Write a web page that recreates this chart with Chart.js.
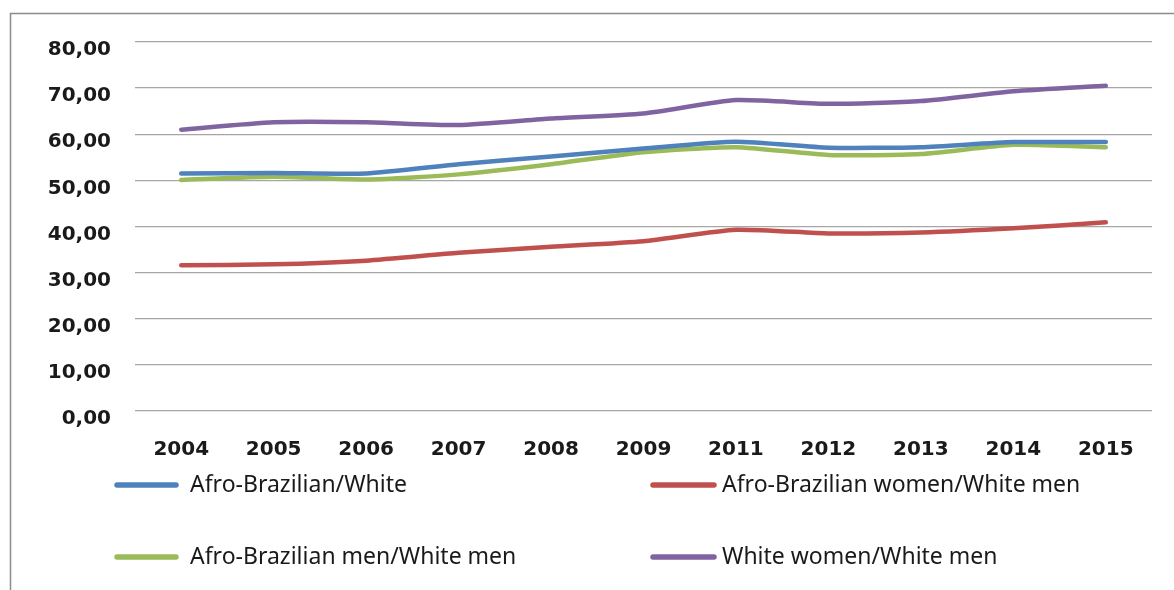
<!DOCTYPE html>
<html>
<head>
<meta charset="utf-8">
<script src="https://cdn.jsdelivr.net/npm/chart.js@4/dist/chart.umd.min.js"></script>
<style>
  html, body { margin: 0; padding: 0; background: #ffffff; }
  #wrap { width: 1174px; height: 590px; }
</style>
</head>
<body>
<div id="wrap"><canvas id="c" width="1174" height="590"></canvas></div>
<script>
// Income ratios (%) by year
const years = ['2004', '2005', '2006', '2007', '2008', '2009', '2011', '2012', '2013', '2014', '2015'];
const afroWhite      = [51.5, 51.6, 51.5, 53.5, 55.2, 56.9, 58.4, 57.1, 57.2, 58.3, 58.3];
const afroWomenWhiteMen = [31.6, 31.8, 32.6, 34.3, 35.6, 36.8, 39.3, 38.5, 38.7, 39.6, 40.9];
const afroMenWhiteMen   = [50.1, 50.8, 50.2, 51.3, 53.5, 56.1, 57.2, 55.5, 55.7, 57.7, 57.2];
const whiteWomenWhiteMen = [61.0, 62.6, 62.6, 62.0, 63.4, 64.5, 67.4, 66.6, 67.2, 69.3, 70.5];
const seriesNames = ['Afro-Brazilian/White', 'Afro-Brazilian women/White men', 'Afro-Brazilian men/White men', 'White women/White men'];
const yTicks = [0, 10, 20, 30, 40, 50, 60, 70, 80];

const colors = ['#4f81bd', '#c0504d', '#9bbb59', '#8064a2'];
const seriesData = [afroWhite, afroWomenWhiteMen, afroMenWhiteMen, whiteWomenWhiteMen];

const fmt = v => v.toFixed(2).replace('.', ',');

// Outer frame (top and left edges)
const framePlugin = {
  id: 'frame',
  beforeDraw(chart) {
    const ctx = chart.ctx;
    ctx.save();
    ctx.strokeStyle = '#8c8c8c';
    ctx.lineWidth = 1.5;
    ctx.beginPath();
    ctx.moveTo(10.5, 590);
    ctx.lineTo(10.5, 13.5);
    ctx.lineTo(1174, 13.5);
    ctx.stroke();
    ctx.restore();
  }
};

// Two-column legend below the axis
const gridLegend = {
  id: 'gridLegend',
  afterDraw(chart) {
    const ctx = chart.ctx;
    const cols = [{ x0: 117, x1: 176, tx: 190 }, { x0: 653, x1: 714, tx: 722 }];
    const rows = [485, 557];
    ctx.save();
    ctx.font = '23px "Noto Sans"';
    ctx.textBaseline = 'middle';
    ctx.fillStyle = '#1a1a1a';
    chart.data.datasets.forEach((ds, i) => {
      const c = cols[i % 2];
      const y = rows[Math.floor(i / 2)];
      ctx.strokeStyle = ds.borderColor;
      ctx.lineWidth = 5.5;
      ctx.lineCap = 'round';
      ctx.beginPath();
      ctx.moveTo(c.x0, y);
      ctx.lineTo(c.x1, y);
      ctx.stroke();
      ctx.fillText(ds.label, c.tx, y);
    });
    ctx.restore();
  }
};

new Chart(document.getElementById('c'), {
  type: 'line',
  data: {
    labels: years,
    datasets: seriesData.map((d, i) => ({
      label: seriesNames[i],
      data: d,
      borderColor: colors[i],
      backgroundColor: colors[i],
      borderWidth: 4.5,
      borderCapStyle: 'round',
      pointRadius: 0,
      tension: 0.2
    }))
  },
  options: {
    responsive: false,
    animation: false,
    layout: { padding: { top: 42, right: 22, bottom: 0, left: 0 } },
    plugins: {
      legend: { display: false },
      tooltip: { enabled: false }
    },
    scales: {
      x: {
        offset: true,
        grid: { display: false },
        border: { display: false },
        ticks: {
          padding: 19,
          color: '#1a1a1a',
          font: { family: '"DejaVu Sans"', size: 20, weight: 'bold' },
          maxRotation: 0
        },
        afterFit(scale) { scale.height = 179; }
      },
      y: {
        min: 0,
        max: 80,
        afterBuildTicks(scale) { scale.ticks = yTicks.map(v => ({ value: v })); },
        grid: { color: '#a6a6a6', lineWidth: 1.3, drawTicks: false },
        border: { display: false },
        ticks: {
          padding: 24,
          labelOffset: 8,
          color: '#1a1a1a',
          font: { family: '"DejaVu Sans"', size: 20, weight: 'bold' },
          callback: v => fmt(v)
        },
        afterFit(scale) { scale.width = 135; }
      }
    }
  },
  plugins: [framePlugin, gridLegend]
});
</script>
</body>
</html>
